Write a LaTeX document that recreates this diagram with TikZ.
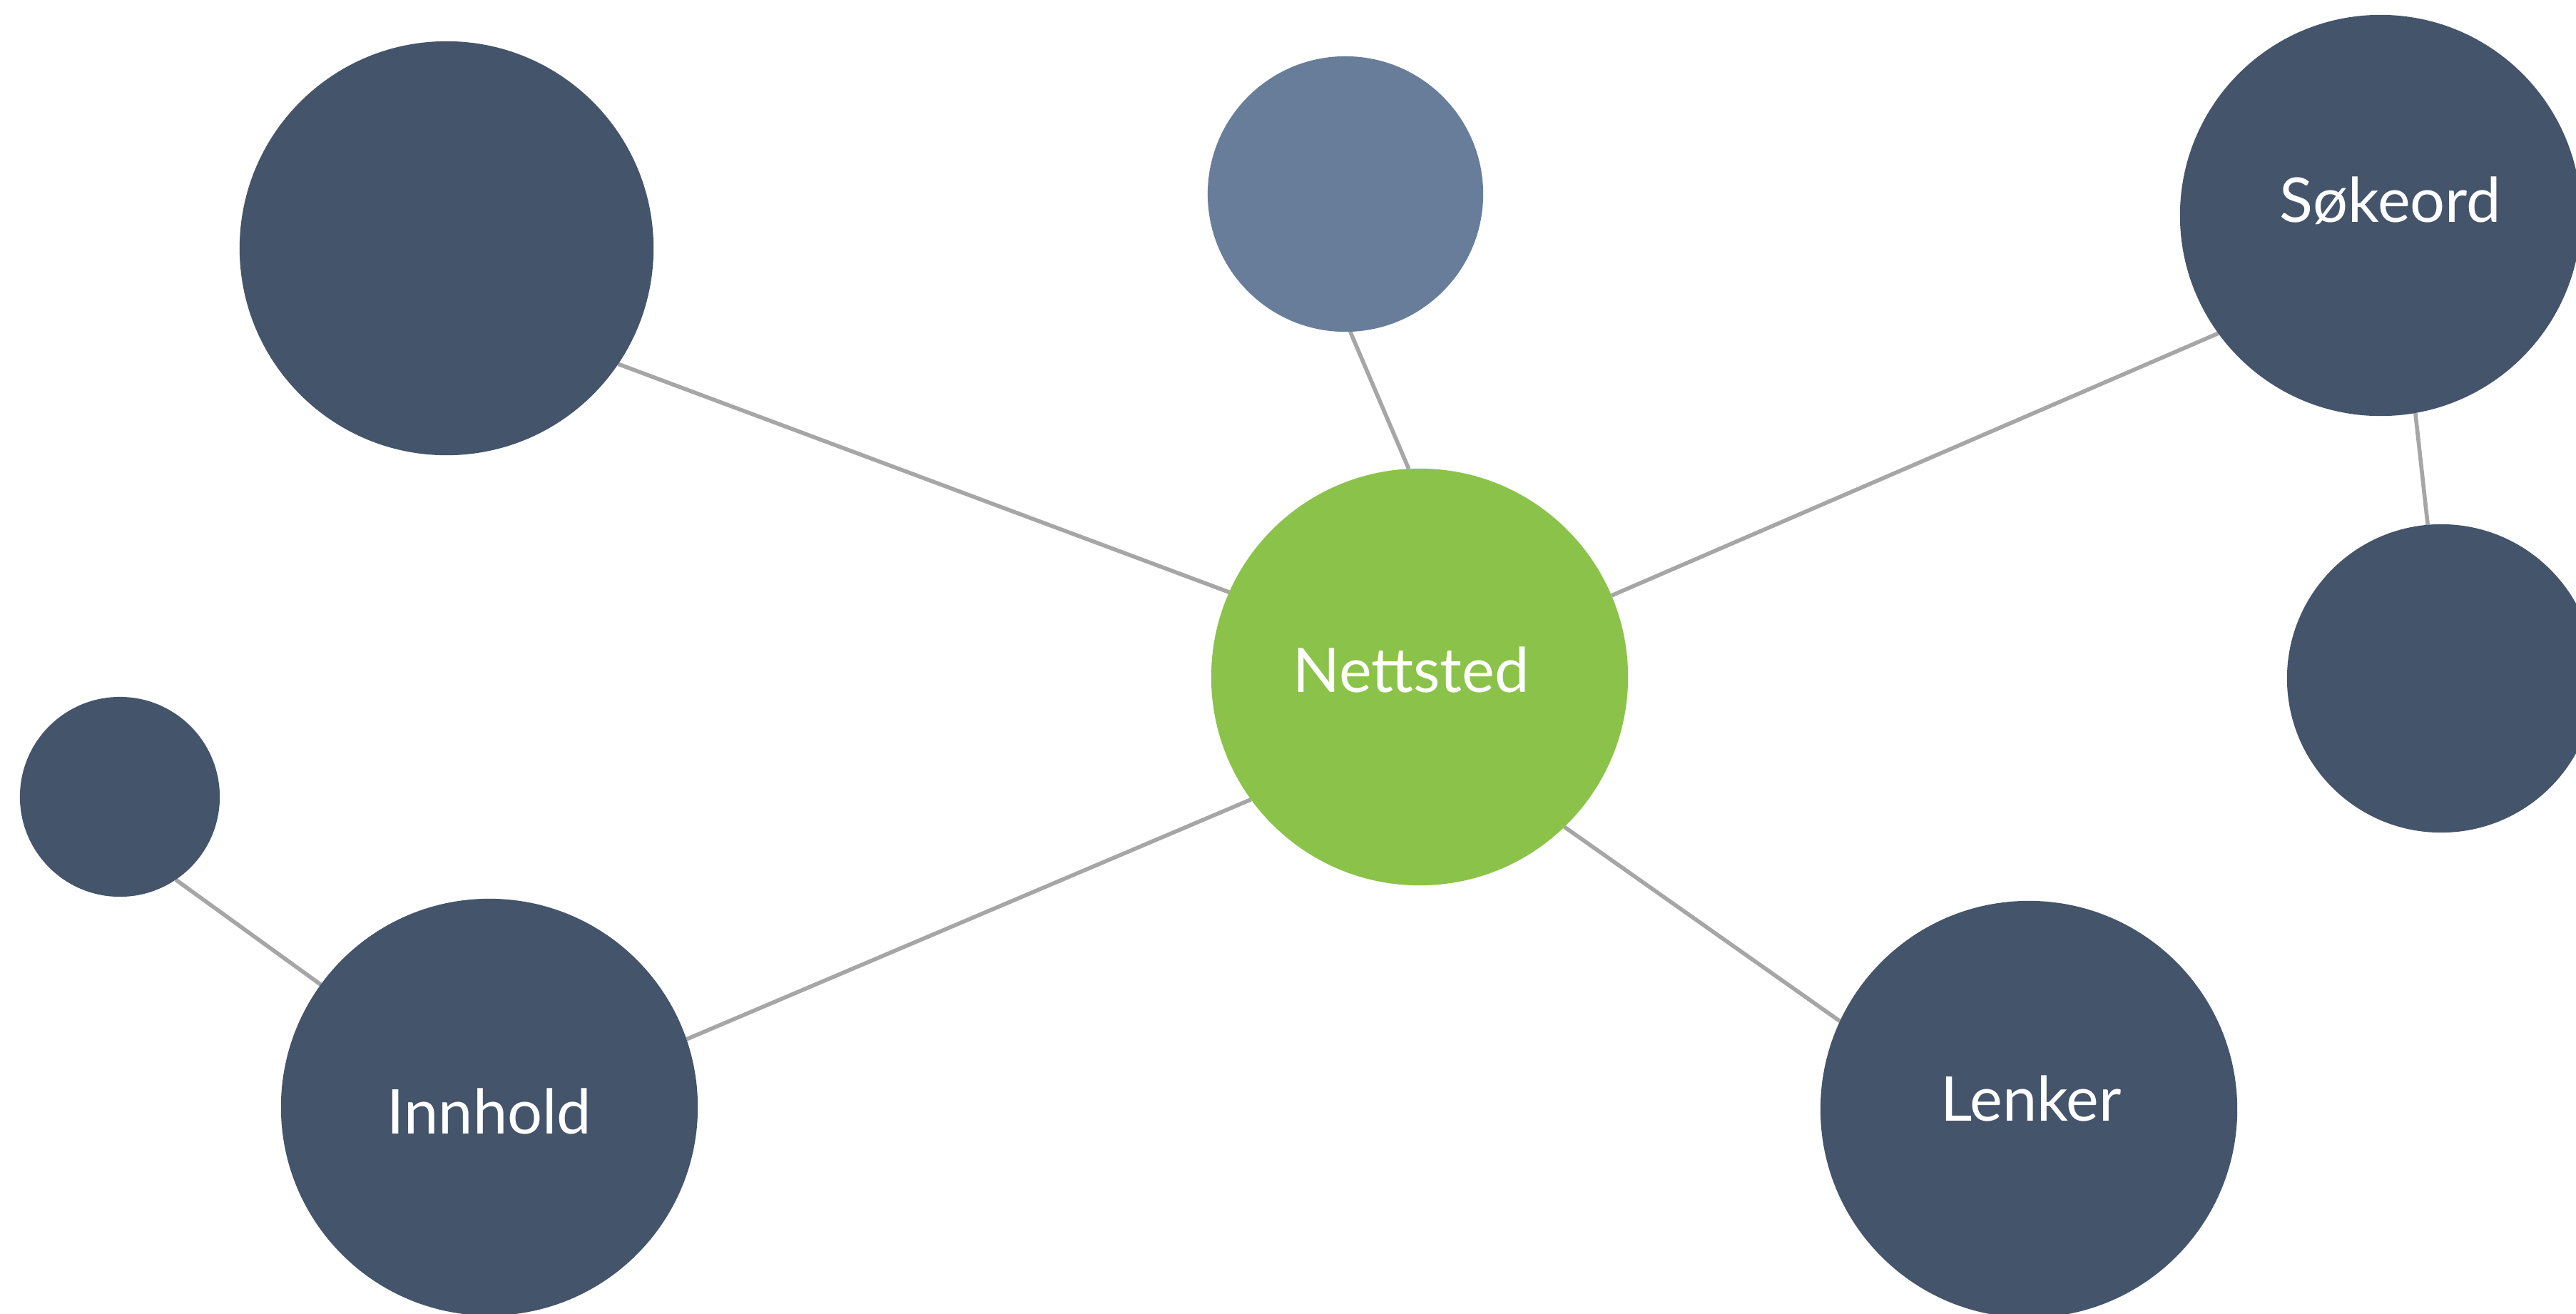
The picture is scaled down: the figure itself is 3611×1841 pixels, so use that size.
\documentclass[tikz,border=0pt]{standalone}
\usepackage{fontspec}
\setmainfont{Lato}
\usetikzlibrary{backgrounds}
\definecolor{darkblue}{HTML}{44546A}
\definecolor{lightblue}{HTML}{687D9A}
\definecolor{netgreen}{HTML}{8BC34A}
\definecolor{linkgray}{HTML}{A6A6A6}
\begin{document}
\begin{tikzpicture}[x=0.01cm,y=-0.01cm,
  bubble/.style={circle, inner sep=0pt, outer sep=0pt, draw=none},
  darkb/.style={bubble, fill=darkblue},
  link/.style={draw=linkgray, line width=1.6pt},
  lbl/.style={text=white, font=\fontsize{24.6}{29}\selectfont, inner sep=0pt, anchor=base}]
\clip (0,0) rectangle (3611,1841);
\useasboundingbox (0,0) rectangle (3611,1841);

\node[darkb, minimum size=5.80cm] (tl) at (626,348) {};
\node[bubble, fill=lightblue, minimum size=3.86cm] (top) at (1886,272) {};
\node[darkb, minimum size=5.62cm] (sok) at (3337,302) {};
\node[darkb, minimum size=4.32cm] (right) at (3422,951) {};
\node[bubble, fill=netgreen, minimum size=5.84cm] (net) at (1990,949) {};
\node[darkb, minimum size=2.80cm] (small) at (168,1117) {};
\node[darkb, minimum size=5.84cm] (inn) at (686,1552) {};
\node[darkb, minimum size=5.84cm] (len) at (2844,1555) {};

\node[lbl] (nett) at (1978,970) {Nettsted};
\node[lbl] (sokt) at (3351,311) {Søkeord};
\node[lbl] (innt) at (686,1589) {Innhold};
\node[lbl] (lent) at (2847,1571) {Lenker};

\begin{scope}[on background layer]
\fill[white] (0,0) rectangle (3611,1841);
\draw[link] (tl.-34.3) -- (net.156.5);
\draw[link] (top.-88.6) -- (net.93.2);
\draw[link] (sok.216.4) -- (net.23.7);
\draw[link] (sok.-80.7) -- (right.95);
\draw[link] (net.216) -- (inn.19.3);
\draw[link] (net.-46) -- (len.155);
\draw[link] (small.-56.3) -- (inn.144.7);
\end{scope}
\end{tikzpicture}
\end{document}
